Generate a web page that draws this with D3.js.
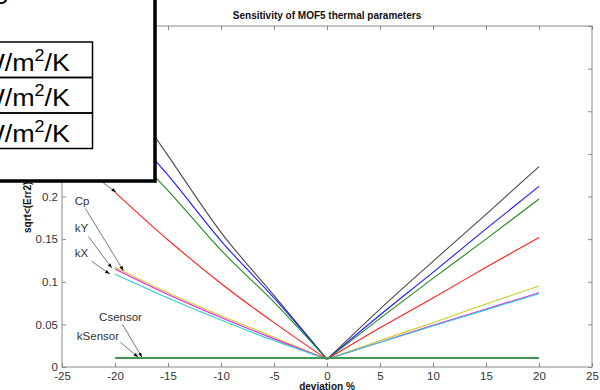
<!DOCTYPE html>
<html>
<head>
<meta charset="utf-8">
<script src="https://cdn.jsdelivr.net/npm/d3@7"></script>
<style>
  body { margin: 0; background: #fff; }
  svg { display: block; font-family: "Liberation Sans", Arial, sans-serif; }
</style>
</head>
<body>
<div id="chart"></div>
<script>
// deviation in percent
var DEV = [-20, -15, -10, -5, 0, 5, 10, 15, 20];

// sqrt<(Err2)> per parameter
var P_BLACK   = [0.338, 0.248, 0.158, 0.084, 0.009, 0.068, 0.124, 0.179, 0.235];
var P_BLUE    = [0.295, 0.225, 0.148, 0.081, 0.009, 0.061, 0.111, 0.162, 0.212];
var P_GREEN   = [0.270, 0.207, 0.137, 0.076, 0.009, 0.057, 0.104, 0.150, 0.197];
var P_RED     = [0.205, 0.149, 0.098, 0.052, 0.009, 0.046, 0.081, 0.117, 0.152];
var CP        = [0.117, 0.087, 0.060, 0.035, 0.009, 0.031, 0.052, 0.074, 0.095];
var KY        = [0.115, 0.085, 0.058, 0.033, 0.009, 0.029, 0.049, 0.068, 0.087];
var KX        = [0.109, 0.081, 0.055, 0.031, 0.009, 0.029, 0.048, 0.067, 0.086];
var KSENSOR   = [0.0104, 0.0104, 0.0104, 0.0104, 0.0104, 0.0104, 0.0104, 0.0104, 0.0104];
var CSENSOR   = [0.0105, 0.0105, 0.0105, 0.0105, 0.0105, 0.0105, 0.0105, 0.0105, 0.0105];

var X_TICKS = [-25, -20, -15, -10, -5, 0, 5, 10, 15, 20, 25];
var Y_TICKS = [0, 0.05, 0.1, 0.15, 0.2, 0.25, 0.3, 0.35, 0.4];

// label text, label anchor and arrow (from -> to) in data units
var NOTE_TEXT = ["Cp", "kY", "kX", "Csensor", "kSensor", ""];
var NOTE_POS  = [[-23.8, 0.190], [-23.8, 0.158], [-23.8, 0.129], [-21.5, 0.054], [-23.6, 0.032], [-24, 0.23]];
var NOTE_FROM = [[-22.8, 0.186], [-22.5, 0.153], [-22.2, 0.124], [-19.3, 0.050], [-19.5, 0.029], [-23.5, 0.238]];
var NOTE_TO   = [[-19.2, 0.113], [-20.3, 0.116], [-20.5, 0.109], [-17.45, 0.0115], [-17.8, 0.0115], [-19.9, 0.205]];

var UNITS = ["W/m", "W/m", "W/m"];

var W = 600, H = 390;
var svg = d3.select("#chart").append("svg")
  .attr("width", W)
  .attr("height", H);
var defs = svg.append("defs");
defs.append("marker")
  .attr("id", "arr")
  .attr("viewBox", "0 0 10 10")
  .attr("refX", 10).attr("refY", 5)
  .attr("markerWidth", 6).attr("markerHeight", 6)
  .attr("orient", "auto")
  .append("path")
  .attr("d", "M0,1.5L10,5L0,8.5Z")
  .attr("fill", "#000");

var x = d3.scaleLinear().domain([-25, 25]).range([62, 592]);
var y = d3.scaleLinear().domain([0, 0.4]).range([367, 26]);

var AXIS = "#8a8a8a";
var TXT = "#333";

// frame
svg.append("rect")
  .attr("x", x(-25)).attr("y", y(0.4))
  .attr("width", x(25) - x(-25)).attr("height", y(0) - y(0.4))
  .attr("fill", "none").attr("stroke", AXIS).attr("stroke-width", 1);

// ticks inward on all four sides
var fmt = function(d){ return String(+d.toFixed(2)); };
var xAxisB = d3.axisBottom(x).tickValues(X_TICKS).tickSize(-4).tickPadding(5).tickFormat(fmt);
var xAxisT = d3.axisTop(x).tickValues(X_TICKS).tickSize(-4).tickFormat("");
var yAxisL = d3.axisLeft(y).tickValues(Y_TICKS).tickSize(-4).tickPadding(4).tickFormat(fmt);
var yAxisR = d3.axisRight(y).tickValues(Y_TICKS).tickSize(-4).tickFormat("");

function styleAxis(g) {
  g.select(".domain").remove();
  g.selectAll("line").attr("stroke", AXIS);
  g.selectAll("text").attr("fill", TXT).attr("font-size", 11.5).attr("font-family", "Liberation Sans, Arial, sans-serif");
}
svg.append("g").attr("transform", "translate(0," + y(0) + ")").call(xAxisB).call(styleAxis);
svg.append("g").attr("transform", "translate(0," + y(0.4) + ")").call(xAxisT).call(styleAxis);
svg.append("g").attr("transform", "translate(" + x(-25) + ",0)").call(yAxisL).call(styleAxis);
svg.append("g").attr("transform", "translate(" + x(25) + ",0)").call(yAxisR).call(styleAxis);

// titles
svg.append("text")
  .attr("x", (x(-25) + x(25)) / 2).attr("y", 19)
  .attr("text-anchor", "middle").attr("font-size", 10).attr("font-weight", "bold")
  .attr("fill", "#111")
  .text("Sensitivity of MOF5 thermal parameters");
svg.append("text")
  .attr("x", (x(-25) + x(25)) / 2).attr("y", 390)
  .attr("text-anchor", "middle").attr("font-size", 10).attr("font-weight", "bold")
  .attr("fill", "#111")
  .text("deviation %");
svg.append("text")
  .attr("transform", "translate(31,233) rotate(-90)")
  .attr("text-anchor", "start").attr("font-size", 10).attr("font-weight", "bold")
  .attr("fill", "#111")
  .text("sqrt<(Err2)>");

// curves, each side of 0 drawn as its own smooth branch
var SERIES = [
  {v: P_BLACK, c: "#4a4a4a"},
  {v: P_BLUE, c: "#1a1aff"},
  {v: P_GREEN, c: "#1f8a1f"},
  {v: P_RED, c: "#ff2020"},
  {v: CP, c: "#cccc22"},
  {v: KY, c: "#e020e0"},
  {v: KX, c: "#30d0d0"},
  {v: KSENSOR, c: "#4f7f8f"},
  {v: CSENSOR, c: "#3a9a3a"}
];
var line = d3.line()
  .x(function(d){ return x(d[0]); })
  .y(function(d){ return y(d[1]); })
  .curve(d3.curveMonotoneX);

var ZERO = DEV.indexOf(0);
SERIES.forEach(function(s, i){
  var pts = DEV.map(function(d, j){ return [d, s.v[j]]; });
  [pts.slice(0, ZERO + 1), pts.slice(ZERO)].forEach(function(half){
    svg.append("path")
      .attr("d", line(half))
      .attr("fill", "none")
      .attr("stroke", s.c)
      .attr("stroke-width", i >= 7 ? 1.6 : 1.1);
  });
});

// annotations
for (var i = 0; i < NOTE_TEXT.length; i++) {
  svg.append("line")
    .attr("x1", x(NOTE_FROM[i][0])).attr("y1", y(NOTE_FROM[i][1]))
    .attr("x2", x(NOTE_TO[i][0])).attr("y2", y(NOTE_TO[i][1]))
    .attr("stroke", "#555").attr("stroke-width", 0.8)
    .attr("marker-end", "url(#arr)");
  if (NOTE_TEXT[i]) {
    svg.append("text")
      .attr("x", x(NOTE_POS[i][0])).attr("y", y(NOTE_POS[i][1]))
      .attr("font-size", 11.5).attr("fill", TXT)
      .text(NOTE_TEXT[i]);
  }
}

// overlaid box in the top left corner
var box = svg.append("g");
box.append("rect")
  .attr("x", -10).attr("y", -10)
  .attr("width", 165).attr("height", 191)
  .attr("fill", "#fff").attr("stroke", "#000").attr("stroke-width", 3.5);
box.append("text")
  .attr("x", 8).attr("y", 4)
  .attr("text-anchor", "end").attr("font-size", 24).attr("fill", "#000")
  .text("S");

var ROW_TOP = [42, 77.5, 113];
var SX = 1.12;
for (var r = 0; r < UNITS.length; r++) {
  box.append("rect")
    .attr("x", -10).attr("y", ROW_TOP[r])
    .attr("width", 102.5).attr("height", 35.5)
    .attr("fill", "none").attr("stroke", "#000").attr("stroke-width", 1.5);
  var t = box.append("text")
    .attr("font-size", 24).attr("fill", "#000");
  t.append("tspan").text(UNITS[r]);
  t.append("tspan").attr("dy", -10).attr("font-size", 16).text("2");
  t.append("tspan").attr("dy", 10).text("/K");
  // keep a gap of ~14px between the K and the row's right edge
  var w = t.node().getBBox().width;
  t.attr("transform", "translate(" + (70 - w * SX) + "," + (ROW_TOP[r] + 28.5) + ") scale(" + SX + ",1)");
}
</script>
</body>
</html>
